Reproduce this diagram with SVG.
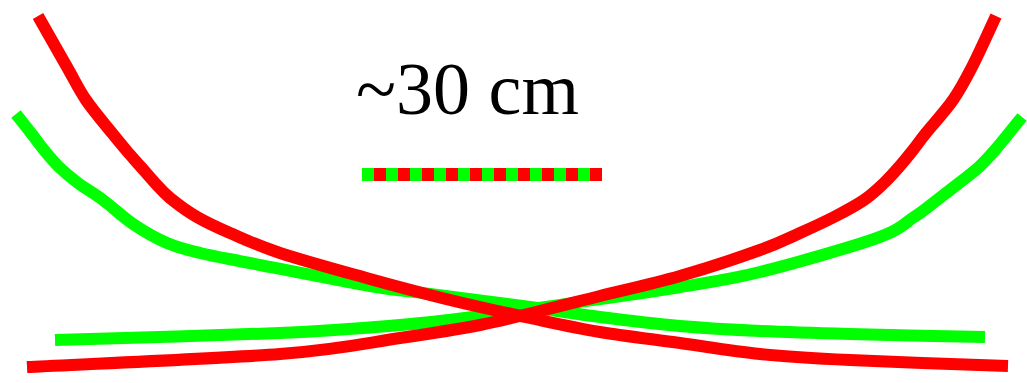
<svg xmlns="http://www.w3.org/2000/svg" width="1027" height="383" viewBox="0 0 1027 383">
<style>
.curve{fill:none;stroke-width:12;stroke-linecap:butt;stroke-linejoin:round}
.red{stroke:#ff0000}
.green{stroke:#00ff00}
.label{font-family:"Liberation Serif","Times New Roman",serif;font-size:74px;fill:#000}
</style>
<g id="connectors">
<path id="greenA" class="curve green" d="M16,114 C18.5,117.2 26.3,127 31,133 S39.3,144.3 44,150 S53.3,161.5 59,167 S70.7,177.5 78,183 S93.8,193.2 103,200 S122.3,216.8 133,224 S155.8,238.2 167,243 S186.2,249.7 200,253 S221.7,257.5 250,263 S340,280.8 370,286 S403.3,290.5 430,294 S501.7,303.2 530,307 S575,313.8 600,317 S653.3,323.7 680,326 S731.7,329.7 760,331 S812.5,333 850,334 S962.5,336.5 985,337"/>
<path id="greenB" class="curve green" d="M1022,117 C1017.5,122.5 1002.2,141.7 995,150 S985,161.5 979,167 S966,177.5 959,183 S944.5,194.3 937,200 S924,210.7 914,217 S902.7,228.8 877,238 S792.8,263.8 760,272 S706.7,282.5 680,287 S633.3,294.2 600,299 S513.3,311.7 480,316 S433.3,322.2 400,325 S337.5,330.5 280,333 S92.5,338.8 55,340"/>
<path id="redA" class="curve red" d="M38,16 C42.8,24.5 59,53 67,67 S78.5,89 86,100 S105.3,124.7 112,133 S121.2,144.3 126,150 S136.2,161.5 141,167 S150.2,177.8 155,183 S163,192.3 170,198 S187,211.2 197,217 S216.2,227 230,233 S256.7,245.3 280,253 S345,272 370,279 S411.7,290.3 430,295 S463.3,303.2 480,307 S510,313.8 530,318 S575,327.8 600,332 S653.3,339.3 680,343 S731.7,351.2 760,354 S808.7,358 850,360 S981.7,365 1008,366"/>
<path id="redB" class="curve red" d="M996,16 C992,24.5 979.2,53 972,67 S960.7,89 953,100 S932.7,124.7 926,133 S917.5,144.3 913,150 S903.8,161.5 899,167 S889.8,177.5 884,183 S872.3,194.3 864,200 S844.7,211.5 834,217 S812.3,227.5 800,233 S780,242.8 760,250 S706.7,268.3 680,276 S623.3,290.2 600,296 S560,306.2 540,311 S503.3,320.5 480,325 S433.3,333.2 400,338 S342.2,349.2 280,354 S69.2,364.8 27,367"/>
</g>
<g id="scale">
<line x1="362" y1="174.5" x2="602" y2="174.5" stroke="#00ff00" stroke-width="13"/>
<line x1="374" y1="174.5" x2="602" y2="174.5" stroke="#ff0000" stroke-width="13" stroke-dasharray="12 12"/>
<text class="label" x="356" y="114">~30 cm</text>
</g>
</svg>
